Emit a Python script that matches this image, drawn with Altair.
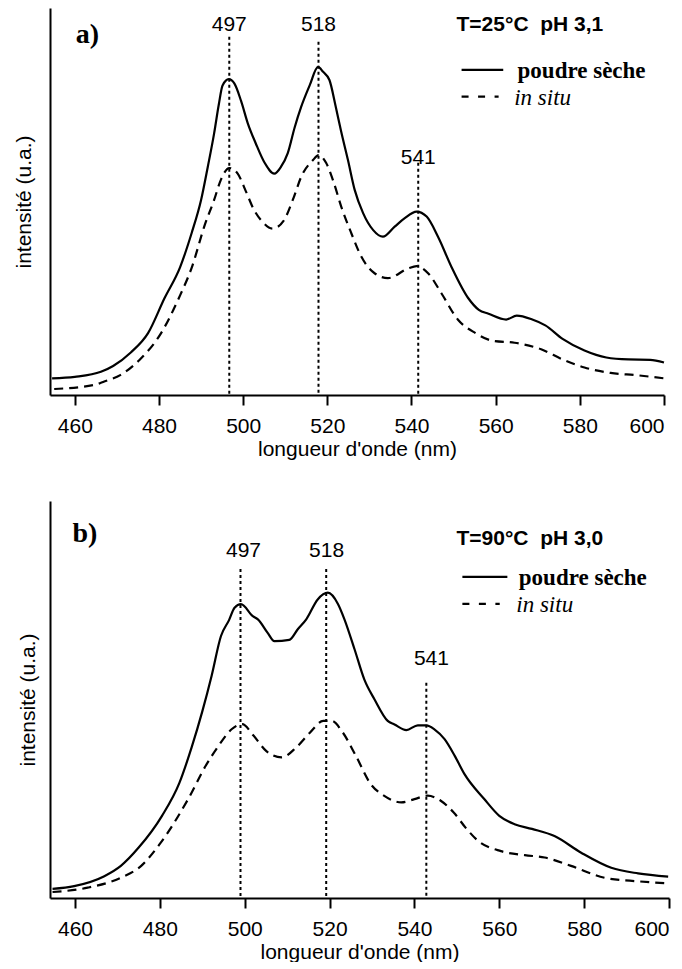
import altair as alt
import pandas as pd

SANS = "Liberation Sans"
SERIF = "Liberation Serif"

# ---------------- panel a) T=25°C pH 3,1 ----------------
a_solid_x = [454.6, 460, 466.2, 469.1, 473.3, 477.4, 481.3, 485.0, 487.8, 490.0, 491.6, 493.1, 494.2, 495.1,
             496.6, 497.9, 499.5, 501.1, 503.0, 505.1, 507.4, 509.0, 510.6, 512.2, 513.8, 515.8, 517.8, 519.0,
             520.5, 522.0, 523.3, 524.9, 526.5, 528.5, 530.9, 533.2, 536.0, 538.4, 541.2, 543.6, 546.3, 549.5,
             553.5, 556.0, 558.3, 562.5, 565.0, 568.7, 571.8, 575.9, 581.1, 586.3, 591.5, 596.7, 600.0]
a_solid_y = [0.043, 0.047, 0.060, 0.075, 0.11, 0.16, 0.25, 0.33, 0.42, 0.504, 0.59, 0.676, 0.75, 0.80,
             0.816, 0.805, 0.76, 0.702, 0.65, 0.60, 0.572, 0.59, 0.625, 0.69, 0.745, 0.80, 0.848, 0.835,
             0.814, 0.745, 0.68, 0.607, 0.53, 0.47, 0.426, 0.409, 0.435, 0.457, 0.474, 0.461, 0.409, 0.331,
             0.25, 0.22, 0.21, 0.195, 0.205, 0.195, 0.18, 0.145, 0.115, 0.097, 0.092, 0.091, 0.084]
a_dash_x = [455.1, 464.6, 467.0, 470.9, 475.3, 480.5, 484.7, 487.8, 490.9, 493.1, 494.7, 496.7, 498.7, 500.7,
            502.5, 504.4, 507.0, 509.6, 512.0, 513.8, 516.6, 517.9, 519.7, 521.5, 523.3, 525.7, 528.1, 531.3,
            534.4, 539.2, 541.2, 544.0, 547.1, 551.0, 555.2, 559.3, 564.5, 570.8, 575.9, 581.1, 587.3, 593.6,
            600.0]
a_dash_y = [0.0155, 0.026, 0.035, 0.052, 0.09, 0.16, 0.25, 0.33, 0.44, 0.504, 0.556, 0.5865, 0.572, 0.525,
            0.48, 0.45, 0.43, 0.45, 0.51, 0.564, 0.607, 0.62, 0.60, 0.55, 0.487, 0.418, 0.357, 0.314,
            0.302, 0.327, 0.333, 0.314, 0.263, 0.195, 0.16, 0.14, 0.135, 0.118, 0.092, 0.071, 0.057, 0.051,
            0.043]
a_peak_labels = ["497", "518", "541"]
a_peak_label_x = [496.7, 517.9, 541.6]
a_peak_label_y = [0.956, 0.956, 0.612]
a_peak_line_x = [496.7, 517.9, 541.6]
a_peak_line_top = [0.926, 0.913, 0.60]
a_tag = "a)"
a_tag_pos = (460.2, 0.93)
a_cond = "T=25°C\u00a0\u00a0pH 3,1"
a_cond_pos = (550.7, 0.956)
a_leg_solid_x = (551.9, 561.8)
a_leg_dash_x = (551.9, 560.7)
a_leg_y = (0.84, 0.771)
a_leg_text_x = (565.2, 564.4)

# ---------------- panel b) T=90°C pH 3,0 ----------------
b_solid_x = [454.7, 459.8, 466.9, 470.8, 475.0, 480.5, 484.6, 487.5, 490.0, 492.2, 494.4, 496.3, 497.6, 499.1,
             501.9, 503.1, 505.4, 507.0, 510.5, 512.5, 514.5, 517.2, 519.6, 522.0, 523.5, 525.9, 528.2, 530.6,
             533.7, 535.3, 538.1, 540.8, 542.8, 544.7, 547.1, 549.5, 551.8, 556.4, 560.0, 563.6, 567.7, 573.0,
             579.3, 586.4, 592.7, 599.8]
b_solid_y = [0.023, 0.030, 0.055, 0.081, 0.127, 0.207, 0.29, 0.38, 0.47, 0.56, 0.66, 0.70, 0.731, 0.74,
             0.71, 0.702, 0.668, 0.647, 0.65, 0.677, 0.702, 0.752, 0.769, 0.74, 0.702, 0.626, 0.55, 0.50,
             0.446, 0.437, 0.423, 0.435, 0.435, 0.425, 0.40, 0.358, 0.312, 0.25, 0.207, 0.186, 0.174, 0.156,
             0.114, 0.076, 0.062, 0.054]
b_dash_x = [454.7, 463.0, 470.8, 475.6, 479.9, 486.7, 490.8, 493.8, 496.9, 499.4, 502.0, 505.1, 508.7, 512.2,
            515.4, 518.5, 520.5, 523.1, 526.2, 529.7, 532.8, 536.9, 540.0, 543.1, 546.2, 549.2, 552.3, 555.0,
            560.4, 566.0, 570.7, 576.9, 584.8, 592.7, 599.8]
b_dash_y = [0.015, 0.026, 0.051, 0.081, 0.135, 0.25, 0.333, 0.383, 0.425, 0.438, 0.41, 0.37, 0.354, 0.38,
            0.417, 0.446, 0.446, 0.417, 0.358, 0.287, 0.258, 0.241, 0.249, 0.258, 0.245, 0.216, 0.174, 0.144,
            0.118, 0.108, 0.102, 0.081, 0.051, 0.042, 0.037]
b_peak_labels = ["497", "518", "541"]
b_peak_label_x = [499.7, 519.3, 544.0]
b_peak_label_y = [0.874, 0.874, 0.602]
b_peak_line_x = [499.0, 519.2, 542.8]
b_peak_line_top = [0.829, 0.829, 0.542]
b_tag = "b)"
b_tag_pos = (459.4, 0.917)
b_cond = "T=90°C\u00a0\u00a0pH 3,0"
b_cond_pos = (549.9, 0.904)
b_leg_solid_x = (551.3, 561.9)
b_leg_dash_x = (551.3, 560.1)
b_leg_y = (0.809, 0.741)
b_leg_text_x = (564.6, 564.0)

x_ticks = [460, 480, 500, 520, 540, 560, 580, 600]
x_title = "longueur d'onde (nm)"
y_title = "intensité (u.a.)"
leg_labels = ["poudre sèche", "in situ"]


def panel(sx, sy, dx, dy, pl, plx, ply, plinex, plinetop, tag, tagpos, cond, condpos,
          legsx, legdx, legy, legtx, width, height, tpad):
    xscale = alt.Scale(domain=[454.1, 600], nice=False, zero=False)
    yscale = alt.Scale(domain=[0, 1], nice=False, zero=False)
    xaxis = alt.Axis(values=x_ticks, tickSize=10, tickWidth=2, tickColor="black",
                     domainWidth=2, domainColor="black", grid=False,
                     labelFont=SANS, labelFontSize=21, labelColor="black", labelPadding=10,
                     titleFont=SANS, titleFontSize=21, titleFontWeight="normal",
                     titleColor="black", titlePadding=2)
    yaxis = alt.Axis(labels=False, ticks=False, grid=False, domainWidth=2, domainColor="black",
                     titleFont=SANS, titleFontSize=21, titleFontWeight="normal",
                     titleColor="black", titlePadding=tpad)

    def X(f):
        return alt.X(f, type="quantitative", scale=xscale, axis=xaxis, title=x_title)

    def Y(f):
        return alt.Y(f, type="quantitative", scale=yscale, axis=yaxis, title=y_title)

    solid = alt.Chart(pd.DataFrame({"x": sx, "y": sy})).mark_line(
        color="black", strokeWidth=2.2, interpolate="monotone").encode(x=X("x"), y=Y("y"))
    dashed = alt.Chart(pd.DataFrame({"x": dx, "y": dy})).mark_line(
        color="black", strokeWidth=2.2, strokeDash=[9, 6], interpolate="monotone").encode(
        x=X("x"), y=Y("y"))

    peaks = pd.DataFrame({"lab": pl, "lx": plx, "ly": ply, "x": plinex, "y": plinetop,
                          "y0": [0.0] * len(pl)})
    plines = alt.Chart(peaks).mark_rule(color="black", strokeWidth=2, strokeDash=[3, 3]).encode(
        x=X("x"), y=Y("y"), y2=alt.Y2("y0"))
    ptext = alt.Chart(peaks).mark_text(font=SANS, fontSize=21, color="black",
                                       align="center", baseline="middle").encode(
        x=X("lx"), y=Y("ly"), text="lab:N")

    tagc = alt.Chart(pd.DataFrame({"x": [tagpos[0]], "y": [tagpos[1]], "t": [tag]})).mark_text(
        font=SERIF, fontSize=28, fontWeight="bold", color="black", align="left",
        baseline="middle").encode(x=X("x"), y=Y("y"), text="t:N")
    condc = alt.Chart(pd.DataFrame({"x": [condpos[0]], "y": [condpos[1]], "t": [cond]})).mark_text(
        font=SANS, fontSize=21, fontWeight="bold", color="black", align="left",
        baseline="middle").encode(x=X("x"), y=Y("y"), text="t:N")

    leg_s = alt.Chart(pd.DataFrame({"x": [legsx[0]], "x2": [legsx[1]], "y": [legy[0]]})).mark_rule(
        color="black", strokeWidth=2.2).encode(x=X("x"), x2=alt.X2("x2"), y=Y("y"))
    leg_d = alt.Chart(pd.DataFrame({"x": [legdx[0]], "x2": [legdx[1]], "y": [legy[1]]})).mark_rule(
        color="black", strokeWidth=2.2, strokeDash=[7, 9.5]).encode(x=X("x"), x2=alt.X2("x2"), y=Y("y"))
    leg_t1 = alt.Chart(pd.DataFrame({"x": [legtx[0]], "y": [legy[0]], "t": [leg_labels[0]]})).mark_text(
        font=SERIF, fontSize=23, fontWeight="bold", color="black", align="left",
        baseline="middle", dy=1).encode(x=X("x"), y=Y("y"), text="t:N")
    leg_t2 = alt.Chart(pd.DataFrame({"x": [legtx[1]], "y": [legy[1]], "t": [leg_labels[1]]})).mark_text(
        font=SERIF, fontSize=23, fontStyle="italic", color="black", align="left",
        baseline="middle", dy=1).encode(x=X("x"), y=Y("y"), text="t:N")

    return alt.layer(solid, dashed, plines, ptext, tagc, condc, leg_s, leg_d, leg_t1, leg_t2).properties(
        width=width, height=height)


pa = panel(a_solid_x, a_solid_y, a_dash_x, a_dash_y, a_peak_labels, a_peak_label_x, a_peak_label_y,
           a_peak_line_x, a_peak_line_top, a_tag, a_tag_pos, a_cond, a_cond_pos,
           a_leg_solid_x, a_leg_dash_x, a_leg_y, a_leg_text_x, 614, 387, 16)
pb = panel(b_solid_x, b_solid_y, b_dash_x, b_dash_y, b_peak_labels, b_peak_label_x, b_peak_label_y,
           b_peak_line_x, b_peak_line_top, b_tag, b_tag_pos, b_cond, b_cond_pos,
           b_leg_solid_x, b_leg_dash_x, b_leg_y, b_leg_text_x, 619, 397, 12)

chart = alt.vconcat(pa, pb, spacing=42).configure_view(stroke=None).properties(
    padding={"left": 5, "top": 0, "right": 0, "bottom": 0}, background="white")

chart.save("out.html", embed_options={"renderer": "svg", "actions": False})
